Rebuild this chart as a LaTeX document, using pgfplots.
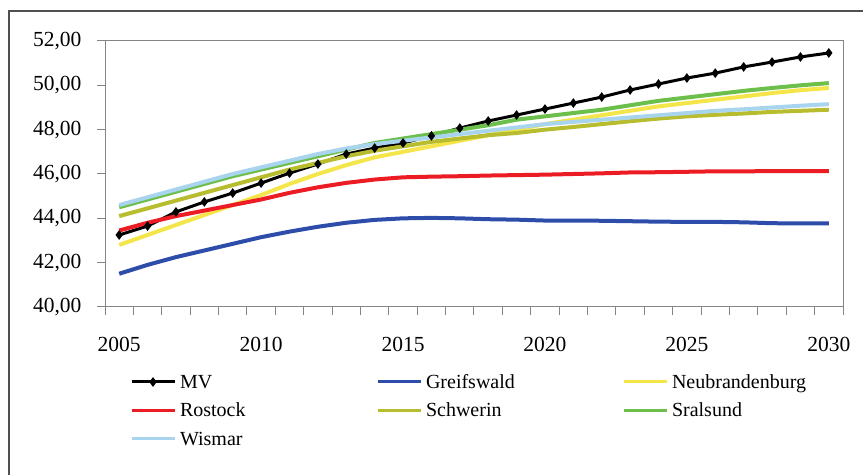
\documentclass[border=0pt]{standalone}
\usepackage{fontspec}
\setmainfont{Liberation Serif}
\usepackage{pgfplots}
\usepackage{pgfplotstable}
\pgfplotsset{compat=1.18}
\definecolor{axisgray}{HTML}{858585}
\definecolor{framegray}{HTML}{505050}
\definecolor{cBlue}{HTML}{2E4DAA}
\definecolor{cYellow}{HTML}{F4E64A}
\definecolor{cRed}{HTML}{EC1C24}
\definecolor{cKhaki}{HTML}{B7BD2E}
\definecolor{cGreen}{HTML}{6CBF4B}
\definecolor{cLBlue}{HTML}{A9D4EE}
\pgfplotstableread{
year MV Greifswald Neubrandenburg Rostock Schwerin Stralsund Wismar
2005 43.25 41.50 42.80 43.45 44.10 44.50 44.60
2006 43.65 41.90 43.25 43.80 44.45 44.85 44.95
2007 44.29 42.25 43.70 44.10 44.80 45.20 45.30
2008 44.74 42.55 44.15 44.35 45.15 45.55 45.65
2009 45.14 42.85 44.60 44.60 45.50 45.90 46.00
2010 45.59 43.15 45.05 44.85 45.85 46.20 46.30
2011 46.04 43.40 45.55 45.15 46.20 46.50 46.60
2012 46.45 43.62 46.00 45.40 46.50 46.80 46.90
2013 46.90 43.80 46.40 45.60 46.80 47.10 47.15
2014 47.17 43.93 46.75 45.75 47.05 47.40 47.35
2015 47.40 44.00 47.00 45.85 47.25 47.60 47.50
2016 47.72 44.02 47.25 45.88 47.45 47.80 47.65
2017 48.07 44.00 47.50 45.90 47.60 48.00 47.80
2018 48.39 43.96 47.75 45.93 47.75 48.20 47.95
2019 48.66 43.94 48.00 45.95 47.85 48.45 48.10
2020 48.93 43.90 48.25 45.97 48.00 48.60 48.25
2021 49.20 43.90 48.45 46.00 48.12 48.75 48.35
2022 49.47 43.89 48.65 46.03 48.25 48.90 48.45
2023 49.79 43.87 48.85 46.07 48.38 49.10 48.55
2024 50.06 43.85 49.05 46.08 48.50 49.30 48.65
2025 50.33 43.84 49.20 46.10 48.60 49.45 48.75
2026 50.55 43.84 49.35 46.12 48.67 49.60 48.85
2027 50.83 43.82 49.50 46.12 48.73 49.75 48.92
2028 51.05 43.78 49.65 46.13 48.80 49.88 49.00
2029 51.28 43.77 49.78 46.13 48.85 50.00 49.08
2030 51.46 43.77 49.88 46.13 48.90 50.10 49.15
}\data
\begin{document}
\begin{tikzpicture}
\begin{axis}[
  at={(105bp,168bp)}, anchor=south west,
  scale only axis, width=738bp, height=266bp,
  xmin=2004.5, xmax=2030.5, ymin=40, ymax=52,
  axis line style={draw=axisgray, line width=1bp},
  tick align=outside,
  major tick length=0pt,
  xtick={2005,2010,2015,2020,2025,2030},
  xticklabels={2005,2010,2015,2020,2025,2030},
  ytick={40,42,...,52},
  yticklabels={{40,00},{42,00},{44,00},{46,00},{48,00},{50,00},{52,00}},
  xtick pos=bottom, ytick pos=left,
  ticklabel style={font=\fontsize{21.5bp}{24bp}\selectfont},
  yticklabel style={xshift=-20bp},
  xticklabel style={yshift=-27bp},
  legend columns=3,
  legend style={at={(0.0339,-0.2575)}, anchor=north west, draw=none, fill=none,
    inner sep=0pt, outer sep=0pt, row sep=15.5bp, column sep=0pt,
    font=\fontsize{20bp}{22bp}\selectfont,
    nodes={inner sep=0pt, text height=13bp, text depth=0pt}},
  legend image code/.code={\draw[#1, line width=3bp, mark repeat=2, mark phase=2] plot coordinates {(0bp,0bp) (21.5bp,0bp) (43bp,0bp)};},
]
\addplot[black, line width=3bp, mark=diamond*, mark size=2.4bp, mark options={solid}] table[x=year, y=MV] {\data};
\addlegendentry{\makebox[200bp][l]{\hspace{4bp}MV}}
\addplot[cBlue, line width=4bp] table[x=year, y=Greifswald] {\data};
\addlegendentry{\makebox[200bp][l]{\hspace{4bp}Greifswald}}
\addplot[cYellow, line width=4bp] table[x=year, y=Neubrandenburg] {\data};
\addlegendentry{\makebox[200bp][l]{\hspace{4bp}Neubrandenburg}}
\addplot[cRed, line width=4bp] table[x=year, y=Rostock] {\data};
\addlegendentry{\makebox[200bp][l]{\hspace{4bp}Rostock}}
\addplot[cKhaki, line width=4bp] table[x=year, y=Schwerin] {\data};
\addlegendentry{\makebox[200bp][l]{\hspace{4bp}Schwerin}}
\addplot[cGreen, line width=4bp] table[x=year, y=Stralsund] {\data};
\addlegendentry{\makebox[200bp][l]{\hspace{4bp}Sralsund}}
\addplot[cLBlue, line width=4bp] table[x=year, y=Wismar] {\data};
\addlegendentry{\makebox[200bp][l]{\hspace{4bp}Wismar}}
\end{axis}
\begin{axis}[
  at={(105bp,168bp)}, anchor=south west,
  scale only axis, width=738bp, height=266bp,
  xmin=2004.5, xmax=2030.5, ymin=40, ymax=52,
  axis line style={draw=axisgray, line width=1bp},
  tick align=outside,
  xmajorticks=false, ymajorticks=false,
  xtick={2005,2010,2015,2020,2025,2030},
  ytick={40,42,...,52},
  minor xtick={2004.5,2005.5,...,2030.5},
  minor ytick={40,42,...,52},
  minor tick length=8bp,
  xtick pos=bottom, ytick pos=left,
  tick style={draw=axisgray, line width=1bp},
]
\end{axis}
\draw[framegray, line width=1.2bp] (9bp,-10bp) -- (9bp,464bp) -- (880bp,464bp);
\pgfresetboundingbox
\path[use as bounding box] (0,0) rectangle (863bp,475bp);
\end{tikzpicture}
\end{document}
